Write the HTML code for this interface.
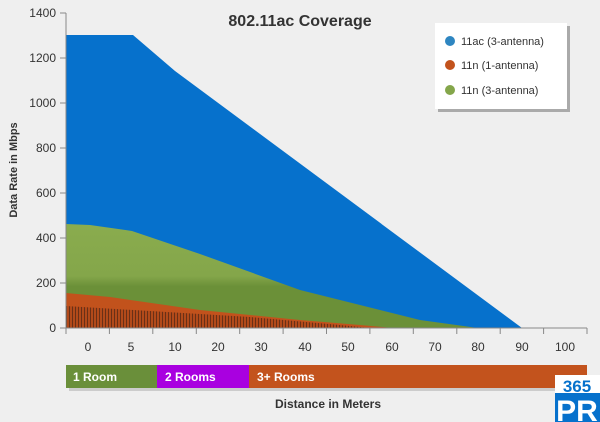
<!DOCTYPE html>
<html><head><meta charset="utf-8"><style>
body{margin:0;background:#efefef;}
svg{display:block;font-family:"Liberation Sans",sans-serif;}
</style></head><body>
<svg width="600" height="422" viewBox="0 0 600 422">
<defs>
<pattern id="hatch" width="3" height="3" patternUnits="userSpaceOnUse">
<rect width="3" height="3" fill="#b24a1a"/><rect width="1" height="3" fill="#6a3016"/>
</pattern>
<linearGradient id="gg" x1="0" y1="0" x2="0" y2="1">
<stop offset="0" stop-color="#8aac4e"/><stop offset="0.5" stop-color="#84a64a"/><stop offset="0.6" stop-color="#6b9038"/><stop offset="1" stop-color="#6b9038"/>
</linearGradient>
</defs>
<rect width="600" height="422" fill="#efefef"/>
<polygon points="66,35 133,35 175,71 522,328 66,328" fill="#0671cc"/>
<polygon points="66,224 90,225 132,231 200,254 300,290 420,320 478,328 66,328" fill="url(#gg)"/>
<polygon points="66,293 110,297 200,310 300,320 360,325 393,328 66,328" fill="#c2521c"/>
<polygon points="66,306 150,311 250,317 340,325 370,328 66,328" fill="url(#hatch)"/>
<line x1="66" y1="13" x2="66" y2="328" stroke="#888"/>
<g stroke="#888">
<line x1="60" y1="13" x2="66" y2="13"/><line x1="60" y1="58" x2="66" y2="58"/><line x1="60" y1="103" x2="66" y2="103"/><line x1="60" y1="148" x2="66" y2="148"/><line x1="60" y1="193" x2="66" y2="193"/><line x1="60" y1="238" x2="66" y2="238"/><line x1="60" y1="283" x2="66" y2="283"/>
<line x1="60" y1="328" x2="587" y2="328"/>
<line x1="66" y1="328" x2="66" y2="334"/><line x1="109.4" y1="328" x2="109.4" y2="334"/><line x1="152.8" y1="328" x2="152.8" y2="334"/><line x1="196.3" y1="328" x2="196.3" y2="334"/><line x1="239.7" y1="328" x2="239.7" y2="334"/><line x1="283.1" y1="328" x2="283.1" y2="334"/><line x1="326.5" y1="328" x2="326.5" y2="334"/><line x1="369.9" y1="328" x2="369.9" y2="334"/><line x1="413.3" y1="328" x2="413.3" y2="334"/><line x1="456.8" y1="328" x2="456.8" y2="334"/><line x1="500.2" y1="328" x2="500.2" y2="334"/><line x1="543.6" y1="328" x2="543.6" y2="334"/><line x1="587" y1="328" x2="587" y2="334"/>
</g>
<g font-size="12" fill="#333" text-anchor="end">
<text x="56" y="17">1400</text><text x="56" y="62">1200</text><text x="56" y="107">1000</text><text x="56" y="152">800</text><text x="56" y="197">600</text><text x="56" y="242">400</text><text x="56" y="287">200</text><text x="56" y="332">0</text>
</g>
<g font-size="12" fill="#333" text-anchor="middle">
<text x="88" y="351">0</text><text x="131" y="351">5</text><text x="175" y="351">10</text><text x="218" y="351">20</text><text x="261" y="351">30</text><text x="305" y="351">40</text><text x="348" y="351">50</text><text x="392" y="351">60</text><text x="435" y="351">70</text><text x="478" y="351">80</text><text x="522" y="351">90</text><text x="565" y="351">100</text>
</g>
<text x="300" y="26" font-size="16" font-weight="bold" fill="#333" text-anchor="middle">802.11ac Coverage</text>
<text transform="translate(17,170) rotate(-90)" font-size="11" font-weight="bold" fill="#333" text-anchor="middle">Data Rate in Mbps</text>
<rect x="438" y="26" width="132" height="86" fill="#aaa"/>
<rect x="435" y="23" width="132" height="86" fill="#fff"/>
<circle cx="450" cy="41" r="5" fill="#2e86c1"/>
<circle cx="450" cy="65" r="5" fill="#c2521c"/>
<circle cx="450" cy="90" r="5" fill="#84a64a"/>
<g font-size="11" fill="#333"><text x="461" y="45">11ac (3-antenna)</text><text x="461" y="69">11n (1-antenna)</text><text x="461" y="94">11n (3-antenna)</text></g>
<rect x="69" y="368" width="518" height="23" fill="#ccc"/>
<rect x="66" y="365" width="91" height="23" fill="#6a8f3a"/>
<rect x="157" y="365" width="92" height="23" fill="#a900e0"/>
<rect x="249" y="365" width="338" height="23" fill="#c3531d"/>
<g font-size="12" font-weight="bold" fill="#fff"><text x="73" y="381">1 Room</text><text x="165" y="381">2 Rooms</text><text x="257" y="381">3+ Rooms</text></g>
<text x="328" y="408" font-size="12" font-weight="bold" fill="#333" text-anchor="middle">Distance in Meters</text>
<rect x="555" y="375" width="45" height="47" fill="#fff"/>
<text x="577" y="392" font-size="17" font-weight="bold" fill="#0671cc" text-anchor="middle">365</text>
<rect x="555" y="393" width="45" height="29" fill="#0671cc"/>
<text x="577" y="421" font-size="30" font-weight="bold" fill="#fff" text-anchor="middle">PR</text>
</svg>
</body></html>
